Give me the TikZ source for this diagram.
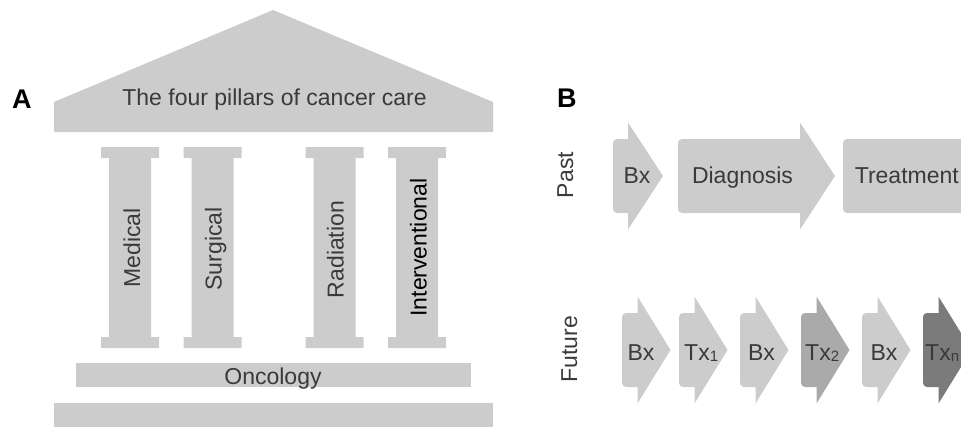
\documentclass[tikz,border=0pt]{standalone}
\usepackage{fontspec}
\setmainfont{Liberation Sans}
\definecolor{pale}{HTML}{CCCCCC}
\definecolor{midgray}{HTML}{AAAAAA}
\definecolor{deepgray}{HTML}{7B7B7B}
\definecolor{ink}{HTML}{3A3A3A}

% chevron step: #1 colour, #2 left edge, #3 start of head, #4 tip, #5 middle y
\newcommand\flowchev[5]{%
  \fill[#1, rounded corners=4pt] (#2,#5-37) rectangle (#3+6,#5+37);
  \fill[#1] (#3,#5-53.5) -- (#4,#5) -- (#3,#5+53.5) -- cycle;}

% column: #1 centre x
\newcommand\column[1]{%
  \fill[pale] (#1-29,147) -- (#1+29,147) -- (#1+29,158) -- (#1+21,158)
    -- (#1+21,337) -- (#1+29,337) -- (#1+29,348) -- (#1-29,348)
    -- (#1-29,337) -- (#1-21,337) -- (#1-21,158) -- (#1-29,158) -- cycle;}

\tikzset{
  lbl/.style={inner sep=0pt, text=ink, font=\fontsize{23}{28}\selectfont},
  vlbl/.style={lbl, rotate=90, anchor=base},
  panel/.style={inner sep=0pt, font=\fontsize{27}{30}\selectfont\bfseries, anchor=base west}
}
\newcommand\subdigit[1]{\raisebox{-1.5pt}{\fontsize{15}{15}\selectfont #1}}

\begin{document}
\begin{tikzpicture}[x=1pt, y=-1pt]
\useasboundingbox (0,0) rectangle (961,426);
\clip (0,0) rectangle (961,426);

% ---- panel A: the temple ----
\fill[pale] (54,132) -- (54,102) -- (273,10) -- (493,102) -- (493,132) -- cycle;
\column{130}
\column{212.5}
\column{334.5}
\column{417}
\fill[pale] (76,363) rectangle (471,387);
\fill[pale] (54,403) rectangle (493,430);

\node[panel] (labelA) at (12,108) {A};
\node[lbl, anchor=base] (roofText) at (274.5,105) {The four pillars of cancer care};
\node[vlbl] (medical) at (140,248) {Medical};
\node[vlbl] (surgical) at (221.5,249) {Surgical};
\node[vlbl] (radiation) at (343.5,249.5) {Radiation};
\node[vlbl, text=black] (interventional) at (426.5,247.5) {Interventional};
\node[lbl, anchor=base] (oncology) at (273,384) {Oncology};

% ---- panel B: care pathways ----
\node[panel] (labelB) at (557,107) {B};
\node[vlbl] (past) at (573,175) {Past};
\node[vlbl] (future) at (577,349) {Future};

\flowchev{pale}{613}{628}{663}{176}
\flowchev{pale}{678}{800}{835}{176}
\fill[pale, rounded corners=4pt] (843,139) rectangle (1000,213);

\node[lbl, anchor=base] (pBx) at (637,183) {Bx};
\node[lbl, anchor=base] (pDiag) at (742.5,183) {Diagnosis};
\node[lbl, anchor=base east] (pTreat) at (959,183) {Treatment};

\flowchev{pale}{622}{637.5}{670.5}{350}
\flowchev{pale}{679}{694.5}{727.5}{350}
\flowchev{pale}{740}{755.5}{788.5}{350}
\flowchev{midgray}{801}{816.5}{849.5}{350}
\flowchev{pale}{862}{877.5}{910.5}{350}
\flowchev{deepgray}{923}{938.5}{971.5}{350}

\node[lbl, anchor=base] (fBxA) at (641,360) {Bx};
\node[lbl, anchor=base west] (fTxA) at (684,360) {Tx\subdigit{1}};
\node[lbl, anchor=base] (fBxB) at (761.5,360) {Bx};
\node[lbl, anchor=base west] (fTxB) at (805,360) {Tx\subdigit{2}};
\node[lbl, anchor=base] (fBxC) at (884,360) {Bx};
\node[lbl, anchor=base west] (fTxN) at (925,360) {Tx\subdigit{n}};
\end{tikzpicture}
\end{document}
